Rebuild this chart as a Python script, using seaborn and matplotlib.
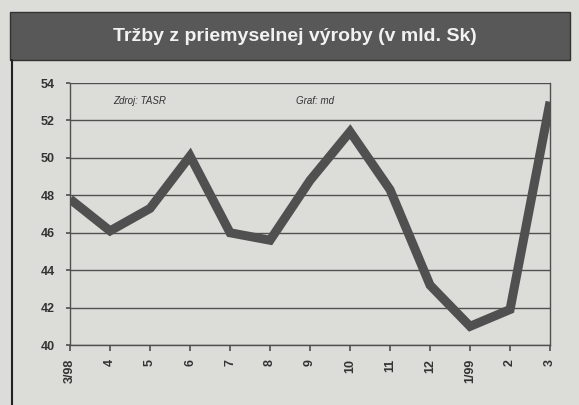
import numpy as np
import pandas as pd
import seaborn as sns
import matplotlib.pyplot as plt
from matplotlib.patches import Rectangle
from matplotlib.lines import Line2D

months = ["3/98", "4", "5", "6", "7", "8", "9", "10", "11", "12", "1/99", "2", "3"]
sales = [47.8, 46.1, 47.3, 50.1, 46.0, 45.6, 48.8, 51.4, 48.3, 43.2, 41.0, 41.9, 53.0]
y_ticks = [40, 42, 44, 46, 48, 50, 52, 54]

title = "Tržby z priemyselnej výroby (v mld. Sk)"
source = "Zdroj: TASR"
credit = "Graf: md"

bg = "#dcdcd8"

sns.set_theme(style="white")
plt.rcParams['font.family'] = ['Liberation Sans', 'DejaVu Sans']

frame = pd.DataFrame({"pos": np.arange(len(months)), "value": sales})

fig = plt.figure(figsize=(5.79, 4.05), dpi=100)
fig.patch.set_facecolor(bg)
ax = fig.add_axes([0.121, 0.148, 0.829, 0.647])
ax.set_facecolor(bg)

sns.lineplot(data=frame, x="pos", y="value", ax=ax, color="#505050", linewidth=6.5,
             solid_joinstyle="miter", solid_capstyle="butt", zorder=3)

ax.set_xlim(0, len(months) - 1)
ax.set_ylim(y_ticks[0], y_ticks[-1])
ax.set_yticks(y_ticks)
ax.set_yticklabels([str(t) for t in y_ticks], fontsize=9, color="#333333", fontweight="bold")
ax.set_xticks(frame["pos"])
ax.set_xticklabels(months, rotation=90, fontsize=9, color="#333333", fontweight="bold")
ax.set_xlabel("")
ax.set_ylabel("")
ax.tick_params(axis="y", length=3, color="#555555", pad=8, left=True)
ax.tick_params(axis="x", length=4, color="#555555", pad=6, bottom=True)

for t in y_ticks:
    ax.axhline(t, color="#505050", linewidth=1.0, zorder=1)

for side in ["left", "right", "bottom"]:
    ax.spines[side].set_color("#505050")
    ax.spines[side].set_linewidth(1.0)
ax.spines["top"].set_visible(False)

ax.text(0.09, 0.93, source, transform=ax.transAxes, fontsize=7, style="italic",
        color="#333333", va="center")
ax.text(0.47, 0.93, credit, transform=ax.transAxes, fontsize=7, style="italic",
        color="#333333", va="center")

# title bar
fig.patches.append(Rectangle((0.017, 0.852), 0.968, 0.118, transform=fig.transFigure,
                             facecolor="#585858", edgecolor="#333333", zorder=0))
fig.text(0.51, 0.911, title, ha="center", va="center", fontsize=14, color="#f2f2f2",
         fontweight="bold")

# frame line on the left
fig.lines.append(Line2D([0.021, 0.021], [0.0, 0.852], transform=fig.transFigure,
                        color="#222222", linewidth=1.5))

fig.savefig("out.png", dpi=100, facecolor=fig.get_facecolor())
